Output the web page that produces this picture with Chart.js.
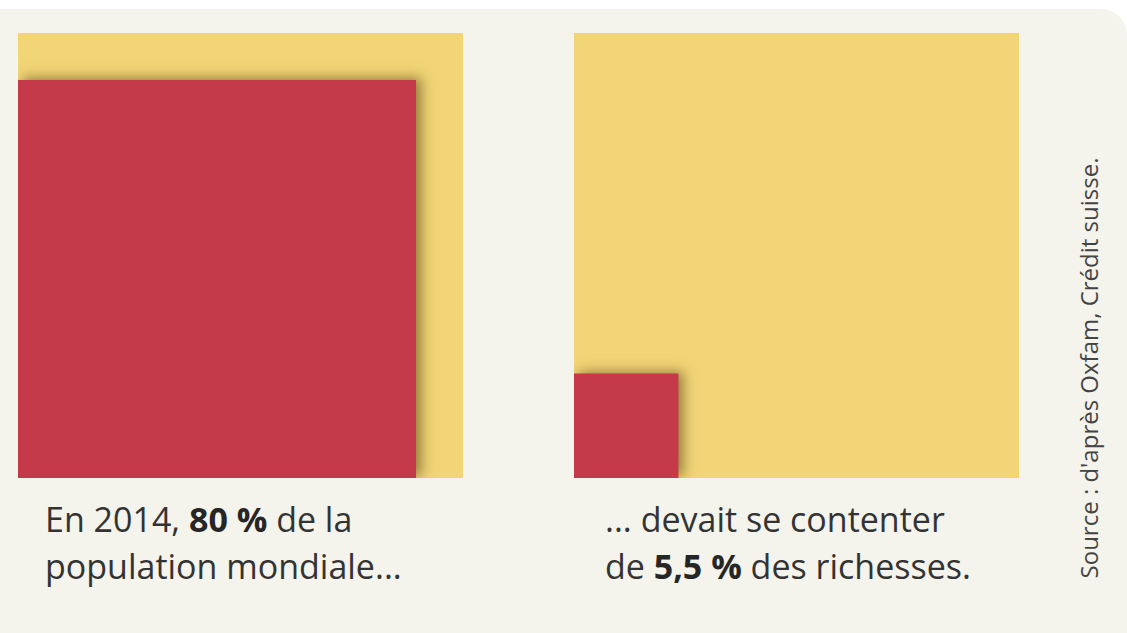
<!DOCTYPE html>
<html lang="fr">
<head>
<meta charset="utf-8">
<title>Inégalités 2014</title>
<script src="https://cdn.jsdelivr.net/npm/chart.js@4.4.0/dist/chart.umd.min.js"></script>
<style>
    html, body { margin: 0; padding: 0; background: #ffffff; }
    body { width: 1127px; height: 633px; position: relative; overflow: hidden; font-family: "Open Sans", "Noto Sans", sans-serif; }
    .panel { position: absolute; left: 0; top: 9px; width: 1127px; height: 624px; background: #f4f3ec; border-top-right-radius: 26px; }
    .box { position: absolute; top: 33px; width: 445px; height: 445px; }
    .caption { position: absolute; top: 496px; font-size: 34px; line-height: 47px; color: #333333; white-space: nowrap; }
    .caption b { font-weight: 700; color: #262626; }
    .source { position: absolute; left: 1088px; top: 368px; font-size: 24px; color: #444444; white-space: nowrap;
              transform: translate(-50%, -50%) rotate(-90deg); }
</style>
</head>
<body>
<div class="panel"></div>
<div class="box" style="left:18px"><canvas id="chartPop"></canvas></div>
<div class="box" style="left:574px"><canvas id="chartWealth"></canvas></div>
<div class="caption" style="left:45px">En 2014, <b>80 %</b> de la<br>population mondiale...</div>
<div class="caption" style="left:605px">... devait se contenter<br>de <b>5,5 %</b> des richesses.</div>
<div class="source">Source : d'après Oxfam, Crédit suisse.</div>
<script>
// Data: share of the whole (yellow square) and share taken by the 80 % (red square)
const panelIds = ['chartPop', 'chartWealth'];
const wholeShare = [100, 100];
const partShare = [80, 5.5];

const RED = '#c53a4a';
const YELLOW = '#f2d576';

// Area-proportional square: side = sqrt(share)
function squareSide(share) {
    return Math.sqrt(share / 100);
}
function squarePoints(share) {
    const side = squareSide(share);
    return [{ x: 0, y: side }, { x: side, y: side }];
}

// Soft shadow under the red square, drawn between the yellow and red fills
const shadowPlugin = {
    id: 'squareShadow',
    afterDatasetDraw(chart, args) {
        if (args.index !== 1) return;
        const ctx = chart.ctx;
        const pts = chart.data.datasets[0].data;
        const xs = chart.scales.x, ys = chart.scales.y;
        const left = xs.getPixelForValue(pts[0].x);
        const right = xs.getPixelForValue(pts[1].x);
        const top = ys.getPixelForValue(pts[0].y);
        const bottom = ys.getPixelForValue(0);
        ctx.save();
        ctx.shadowColor = 'rgba(50, 35, 0, 0.5)';
        ctx.shadowBlur = 12;
        ctx.shadowOffsetX = 5;
        ctx.shadowOffsetY = -2;
        ctx.fillStyle = RED;
        ctx.fillRect(left, top, right - left, bottom - top);
        ctx.restore();
    }
};

panelIds.forEach((id, i) => {
    new Chart(document.getElementById(id), {
        type: 'scatter',
        data: {
            datasets: [
                {
                    label: 'part',
                    data: squarePoints(partShare[i]),
                    showLine: true,
                    fill: 'origin',
                    backgroundColor: RED,
                    borderWidth: 0,
                    pointRadius: 0
                },
                {
                    label: 'total',
                    data: squarePoints(wholeShare[i]),
                    showLine: true,
                    fill: 'origin',
                    backgroundColor: YELLOW,
                    borderWidth: 0,
                    pointRadius: 0
                }
            ]
        },
        options: {
            responsive: true,
            maintainAspectRatio: false,
            animation: false,
            events: [],
            layout: { padding: 0 },
            scales: {
                x: { type: 'linear', min: 0, max: 1, display: false },
                y: { type: 'linear', min: 0, max: 1, display: false }
            },
            plugins: {
                legend: { display: false },
                tooltip: { enabled: false }
            }
        },
        plugins: [shadowPlugin]
    });
});
</script>
</body>
</html>
